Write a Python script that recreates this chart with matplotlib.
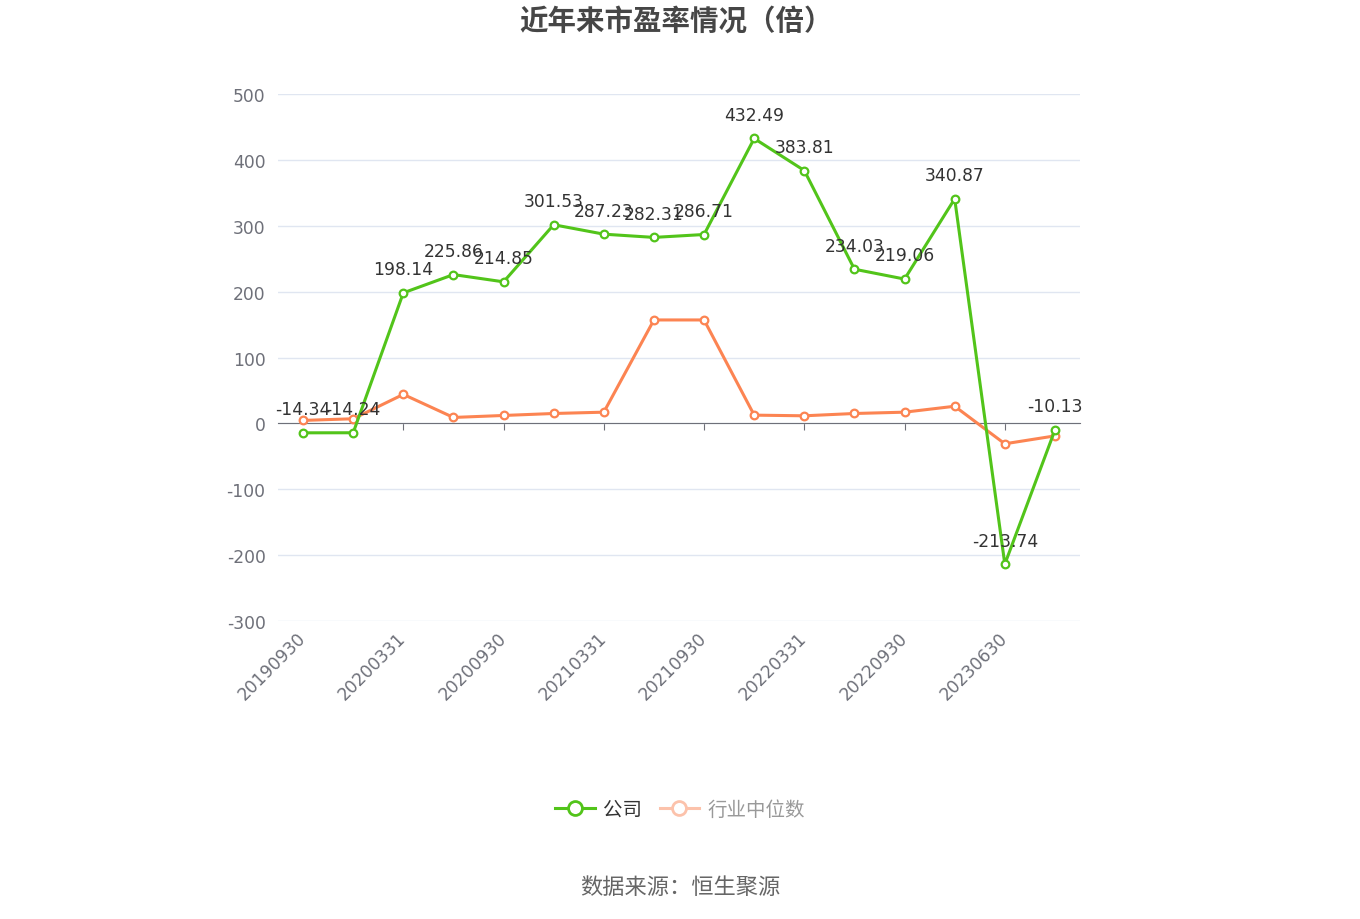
import numpy as np
import matplotlib.pyplot as plt
from matplotlib.lines import Line2D

plt.rcParams['font.family'] = ['DejaVu Sans', 'Noto Sans CJK SC']
plt.rcParams['axes.unicode_minus'] = False

dates = ['20190930', '20191231', '20200331', '20200630', '20200930', '20201231',
         '20210331', '20210630', '20210930', '20211231', '20220331', '20220630',
         '20220930', '20221231', '20230630', '20230930']
company = [-14.34, -14.24, 198.14, 225.86, 214.85, 301.53, 287.23, 282.31,
           286.71, 432.49, 383.81, 234.03, 219.06, 340.87, -213.74, -10.13]
industry = [4.5, 7, 44, 9, 12, 15, 17, 157, 157, 12.5, 11.5, 15, 17, 26, -31, -19]

green = '#52c41a'
orange = '#fc8452'
cjk = ['Noto Sans CJK SC', 'DejaVu Sans']

fig = plt.figure(figsize=(13.6, 9.2), dpi=100)
ax = fig.add_axes([278 / 1360, 1 - 622 / 920, 802 / 1360, 527 / 920])

x = np.arange(len(dates))
ax.plot(x, industry, color=orange, lw=2.2, marker='o', ms=5.5, mfc='white',
        mec=orange, mew=1.6, zorder=3)
ax.plot(x, company, color=green, lw=2.2, marker='o', ms=5.5, mfc='white',
        mec=green, mew=1.6, zorder=4)

for xi, v in zip(x, company):
    ax.annotate(f'{v:.2f}', (xi, v), xytext=(0, 17), textcoords='offset points',
                ha='center', va='center', fontsize=12.3, color='#333333', zorder=5)

ax.set_xlim(-0.5, len(dates) - 0.5)
ax.set_ylim(-300, 500)
ax.set_yticks(np.arange(-300, 501, 100))
ax.tick_params(axis='y', length=0, pad=9, labelsize=12.3, labelcolor='#6e7079')
ax.grid(axis='y', color='#e0e6f1', lw=1)
ax.set_axisbelow(True)
for s in ['top', 'right', 'left']:
    ax.spines[s].set_visible(False)

# axis line sits on zero, labels stay at the bottom
ax.spines['bottom'].set_position(('data', 0))
ax.spines['bottom'].set_color('#6e7079')
ax.set_xticks(x[2::2])
ax.tick_params(axis='x', length=5, color='#6e7079', labelbottom=False)

sec = ax.secondary_xaxis('bottom')
sec.spines['bottom'].set_visible(False)
sec.set_xticks(x[::2])
sec.set_xticklabels(dates[::2], rotation=45, ha='right', va='center', rotation_mode='anchor')
sec.tick_params(length=0, pad=10, labelsize=12.3, labelcolor='#6e7079')

fig.text(0.497, 0.977, '近年来市盈率情况（倍）', ha='center', va='center',
         fontsize=20.5, fontweight='bold', color='#464646', family=cjk)

handles = [
    Line2D([], [], color=green, lw=2.2, marker='o', ms=10, mfc='white', mec=green, mew=2),
    Line2D([], [], color='#fcc2ab', lw=2.2, marker='o', ms=10, mfc='white', mec='#fcc2ab', mew=2),
]
leg = fig.legend(handles, ['公司', '行业中位数'], loc='center', bbox_to_anchor=(0.5, 1 - 810 / 920),
                 ncol=2, frameon=False, prop={'family': cjk, 'size': 14},
                 handlelength=2.05, columnspacing=0.9, handletextpad=0.4)
leg.get_texts()[0].set_color('#333333')
leg.get_texts()[1].set_color('#999999')

fig.text(0.5, 1 - 888 / 920, '数据来源：恒生聚源', ha='center', va='center',
         fontsize=16, color='#666666', family=cjk)

fig.savefig('out.png', dpi=100)
